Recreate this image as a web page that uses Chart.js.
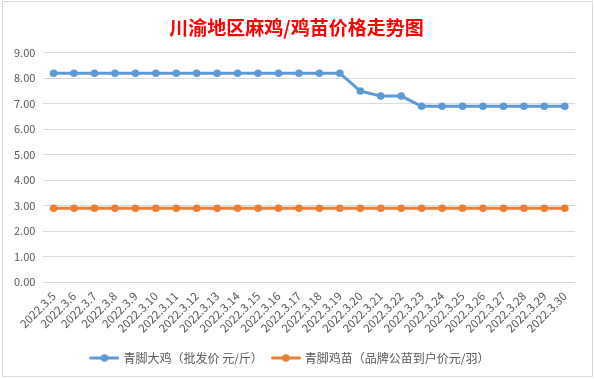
<!DOCTYPE html>
<html>
<head>
<meta charset="utf-8">
<script src="https://cdn.jsdelivr.net/npm/chart.js@4"></script>
<style>
  html, body { margin: 0; padding: 0; background: #ffffff; }
  #wrap { position: absolute; left: 2px; top: 1px; width: 589px; height: 374px; border: 1px solid #d9d9d9; background: #fff; }
  canvas { display: block; }
</style>
</head>
<body>
<div id="wrap"><canvas id="c" width="589" height="374"></canvas></div>
<script>
const title = "川渝地区麻鸡/鸡苗价格走势图";
const categories = ["2022.3.5","2022.3.6","2022.3.7","2022.3.8","2022.3.9","2022.3.10","2022.3.11","2022.3.12","2022.3.13","2022.3.14","2022.3.15","2022.3.16","2022.3.17","2022.3.18","2022.3.19","2022.3.20","2022.3.21","2022.3.22","2022.3.23","2022.3.24","2022.3.25","2022.3.26","2022.3.27","2022.3.28","2022.3.29","2022.3.30"];
const seriesNames = ["青脚大鸡（批发价 元/斤）", "青脚鸡苗（品牌公苗到户价元/羽）"];
const adultPrice = [8.2,8.2,8.2,8.2,8.2,8.2,8.2,8.2,8.2,8.2,8.2,8.2,8.2,8.2,8.2,7.5,7.3,7.3,6.9,6.9,6.9,6.9,6.9,6.9,6.9,6.9];
const chickPrice = [2.9,2.9,2.9,2.9,2.9,2.9,2.9,2.9,2.9,2.9,2.9,2.9,2.9,2.9,2.9,2.9,2.9,2.9,2.9,2.9,2.9,2.9,2.9,2.9,2.9,2.9];
const yTicks = [0,1,2,3,4,5,6,7,8,9];
const colors = ["#5b9bd5", "#ed7d31"];

function legendIcon(color) {
  const cv = document.createElement('canvas');
  cv.width = 30; cv.height = 10;
  const g = cv.getContext('2d');
  g.strokeStyle = color; g.lineWidth = 3; g.lineCap = 'round';
  g.beginPath(); g.moveTo(1.5, 5); g.lineTo(28.5, 5); g.stroke();
  g.fillStyle = color; g.beginPath(); g.arc(15, 5, 3.8, 0, Math.PI * 2); g.fill();
  return cv;
}

const FONT = "'Microsoft YaHei','Noto Sans CJK SC','Liberation Sans',sans-serif";

const shiftTitle = {
  id: 'shiftTitle',
  afterLayout(chart) {
    const t = chart.titleBlock;
    if (t) { t.left += 6; t.right += 6; }
  }
};

new Chart(document.getElementById('c'), {
  type: 'line',
  data: {
    labels: categories,
    datasets: [
      { label: seriesNames[0], data: adultPrice, borderColor: colors[0], backgroundColor: colors[0],
        borderWidth: 3, pointRadius: 3.8, pointHoverRadius: 3.8, pointBackgroundColor: colors[0], pointBorderWidth: 0, tension: 0 },
      { label: seriesNames[1], data: chickPrice, borderColor: colors[1], backgroundColor: colors[1],
        borderWidth: 3, pointRadius: 3.8, pointHoverRadius: 3.8, pointBackgroundColor: colors[1], pointBorderWidth: 0, tension: 0 }
    ]
  },
  plugins: [shiftTitle],
  options: {
    responsive: false,
    animation: false,
    layout: { padding: { left: 3, right: 17, top: 0, bottom: 2 } },
    plugins: {
      title: { display: true, text: title, color: '#ff0000',
        font: { family: FONT, size: 19, weight: 'bold' }, padding: { top: 14, bottom: 14 } },
      legend: { position: 'bottom',
        labels: { color: '#595959', font: { family: FONT, size: 12 }, usePointStyle: true, pointStyleWidth: 26, boxWidth: 26, boxHeight: 10, padding: 10,
          generateLabels: (chart) => chart.data.datasets.map((d, i) => ({
            text: d.label, fillStyle: colors[i], strokeStyle: colors[i], lineWidth: 0,
            pointStyle: legendIcon(colors[i]), datasetIndex: i, hidden: false, fontColor: '#595959'
          }))
        } },
      tooltip: { enabled: false }
    },
    scales: {
      x: {
        offset: true,
        grid: { display: false, drawTicks: false },
        border: { display: false },
        ticks: { color: '#595959', font: { family: FONT, size: 11.5 }, minRotation: 45, maxRotation: 45, autoSkip: false, padding: 7 }
      },
      y: {
        min: 0, max: 9,
        afterBuildTicks: (axis) => { axis.ticks = yTicks.map(v => ({ value: v })); },
        grid: { color: '#d9d9d9', lineWidth: 1, drawTicks: false },
        border: { display: false },
        ticks: { color: '#595959', font: { family: FONT, size: 11 }, padding: 8, callback: (v) => Number(v).toFixed(2) }
      }
    }
  }
});
</script>
</body>
</html>
